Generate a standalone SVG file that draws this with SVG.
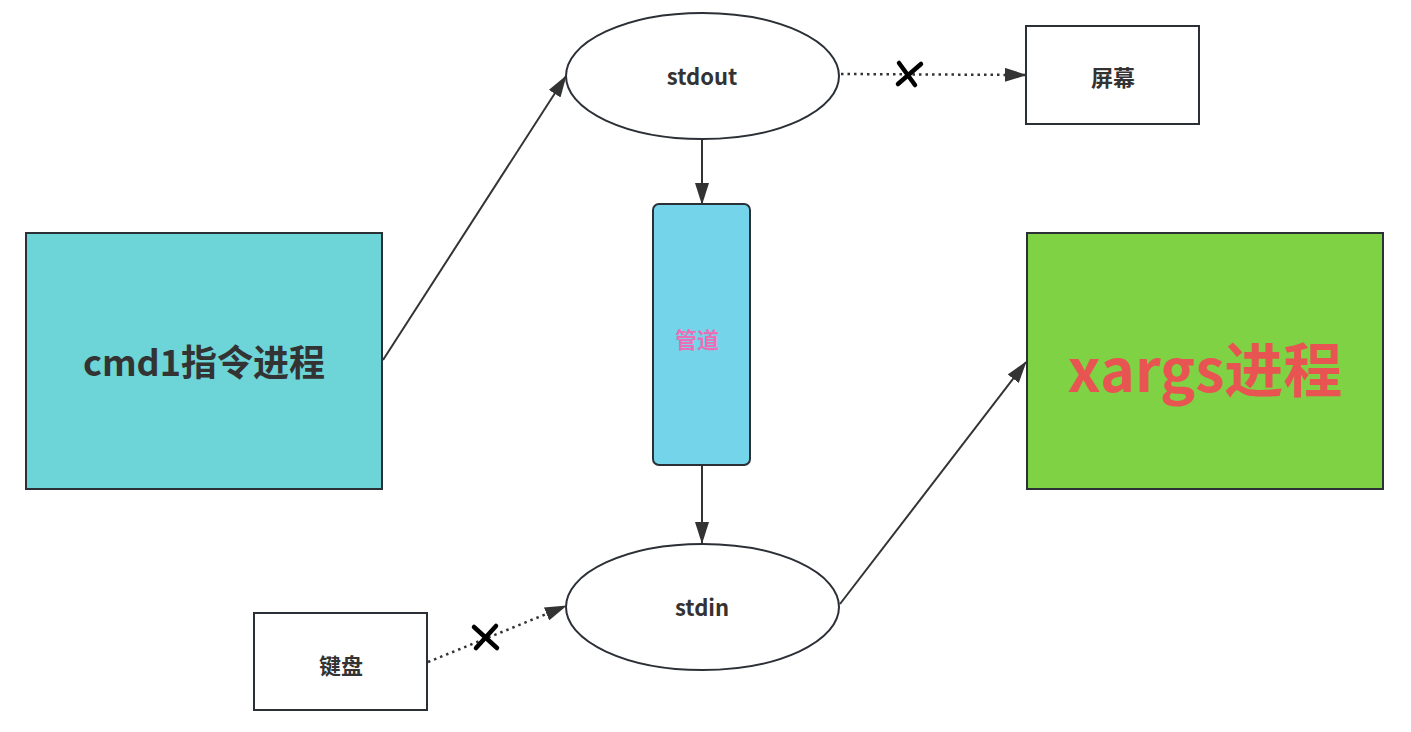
<svg xmlns="http://www.w3.org/2000/svg" width="1411" height="732" viewBox="0 0 1411 732">
<style>
.s{stroke:#2b2f36;stroke-width:2}
.t{font-family:"Noto Sans CJK SC","Noto Sans",sans-serif;font-weight:bold;fill:#333;text-anchor:middle;dominant-baseline:central}
.c{fill:none;stroke:#333;stroke-width:2}
.d{fill:none;stroke:#333;stroke-width:2.5;stroke-dasharray:2.5 4}
.x{stroke:#000;stroke-width:4.5;stroke-linecap:round}
</style>
<defs>
<marker id="b" markerWidth="22" markerHeight="14" refX="21" refY="7" orient="auto" markerUnits="userSpaceOnUse" viewBox="0 0 22 14">
<path d="M0,0 L22,7 L0,14 z" fill="#333"/>
</marker>
</defs>
<rect width="1411" height="732" fill="#fff"/>
<g id="connectors">
<path class="c" d="M383,360 L566,76" marker-end="url(#b)"/>
<path class="c" d="M702,140 L702,204" marker-end="url(#b)"/>
<path class="c" d="M702,465 L702,543" marker-end="url(#b)"/>
<path class="c" d="M840,604 L1026,362" marker-end="url(#b)"/>
<path class="d" d="M841,74 L1026,75" marker-end="url(#b)"/>
<path class="d" d="M428,662 L566,606" marker-end="url(#b)"/>
<line class="x" x1="898" y1="84" x2="921" y2="64"/>
<line class="x" x1="899" y1="63" x2="915" y2="85"/>
<line class="x" x1="474" y1="627" x2="497" y2="648"/>
<line class="x" x1="476" y1="648" x2="496" y2="626"/>
</g>
<g id="cmd1">
<rect class="s" x="26" y="233" width="356" height="256" fill="#6dd5d7"/>
<text class="t" x="204" y="360" font-size="36">cmd1指令进程</text>
</g>
<g id="stdout">
<ellipse class="s" cx="702.5" cy="76" rx="136.5" ry="63" fill="#fff"/>
<text class="t" x="702" y="75" font-size="22">stdout</text>
</g>
<g id="screen">
<rect class="s" x="1026" y="26" width="173" height="98" fill="#fff"/>
<text class="t" x="1113" y="76" font-size="22">屏幕</text>
</g>
<g id="pipe">
<rect class="s" x="653" y="204" width="97" height="261" rx="6" fill="#74d5ea"/>
<text class="t" x="697" y="338" font-size="22" style="fill:#ea6fb7">管道</text>
</g>
<g id="stdin">
<ellipse class="s" cx="702.5" cy="607" rx="136.5" ry="63" fill="#fff"/>
<text class="t" x="702" y="606" font-size="22">stdin</text>
</g>
<g id="keyboard">
<rect class="s" x="254" y="613" width="173" height="97" fill="#fff"/>
<text class="t" x="341" y="664" font-size="22">键盘</text>
</g>
<g id="xargs">
<rect class="s" x="1027" y="233" width="356" height="256" fill="#7ed244"/>
<text class="t" x="1205" y="366" font-size="59" style="fill:#e85452">xargs进程</text>
</g>
</svg>
